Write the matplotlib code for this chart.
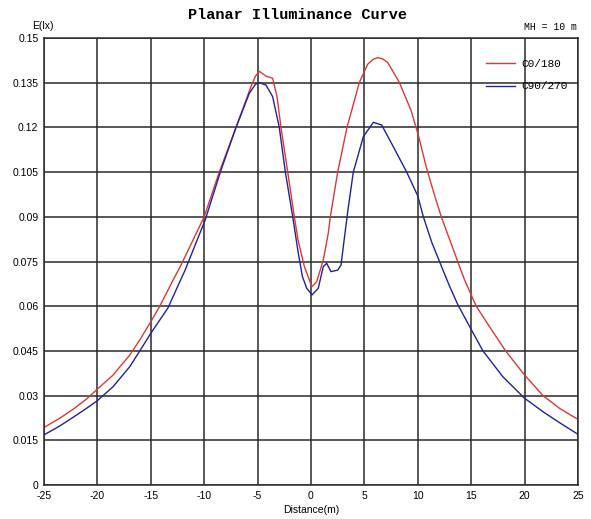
import matplotlib
matplotlib.use("Agg")
import matplotlib.pyplot as plt

plt.rcParams["axes.unicode_minus"] = False

# C0/180 curve
x_c0 = [-25, -23.53, -22.28, -21.03, -20, -18.53, -16.97, -16.03, -15, -14.16, -12.91,
        -12.24, -10.0, -8.59, -7.02, -5.62, -5.2, -4.84, -4.21, -3.59, -3.18, -2.81, -2.18,
        -1.56, -1.2, -0.62, -0.15, 0.06, 0.53, 1.15, 1.62, 1.81, 2.5, 3.37, 4.53, 5.31, 5.8,
        6.24, 6.7, 7.18, 8.27, 9.36, 10.08, 10.77, 11.5, 12.2, 13.91, 14.38, 15.47, 16.72,
        18.22, 20, 21.72, 23.28, 25]
y_c0 = [0.0193, 0.0224, 0.0254, 0.0288, 0.0322, 0.0369, 0.0436, 0.0487, 0.0548, 0.060,
        0.0688, 0.0733, 0.090, 0.105, 0.120, 0.1337, 0.1372, 0.1388, 0.1372, 0.1365,
        0.1303, 0.120, 0.105, 0.090, 0.082, 0.0733, 0.0688, 0.0665, 0.0682, 0.0755, 0.0845,
        0.090, 0.105, 0.120, 0.1351, 0.1412, 0.1428, 0.1434, 0.1430, 0.1418, 0.1351, 0.1258,
        0.117, 0.107, 0.098, 0.090, 0.0733, 0.0688, 0.060, 0.0531, 0.045, 0.0369, 0.030,
        0.0257, 0.0220]

# C90/270 curve
x_c90 = [-25, -23.53, -22.28, -21.03, -20, -18.53, -16.97, -16.03, -15, -13.38, -12.44,
         -11.8, -9.9, -8.49, -7.02, -5.78, -5.2, -4.84, -4.21, -3.59, -2.97, -2.4, -1.71,
         -1.2, -0.8, -0.4, 0.1, 0.68, 1.15, 1.47, 1.87, 2.5, 2.81, 3.2, 3.45, 3.96, 4.9,
         5.84, 6.62, 7.71, 8.96, 10.0, 10.52, 11.3, 12.2, 13.0, 13.75, 15, 16.1, 17.97, 20,
         21.72, 23.28, 25]
y_c90 = [0.0168, 0.0198, 0.0227, 0.0257, 0.0283, 0.033, 0.0397, 0.045, 0.0509, 0.0595,
         0.0670, 0.0720, 0.089, 0.105, 0.120, 0.1314, 0.1345, 0.135, 0.1342, 0.1303, 0.120,
         0.105, 0.090, 0.078, 0.0699, 0.066, 0.0638, 0.066, 0.0733, 0.0744, 0.0716, 0.0721,
         0.0738, 0.085, 0.092, 0.105, 0.1169, 0.1217, 0.1208, 0.1135, 0.105, 0.097, 0.090,
         0.0815, 0.0735, 0.0665, 0.0605, 0.0522, 0.045, 0.0363, 0.0291, 0.0246, 0.0209,
         0.0170]

yticks = [0, 0.015, 0.03, 0.045, 0.06, 0.075, 0.09, 0.105, 0.12, 0.135, 0.15]
ytick_labels = ["0", "0.015", "0.03", "0.045", "0.06", "0.075", "0.09", "0.105", "0.12",
                "0.135", "0.15"]
xticks = [-25, -20, -15, -10, -5, 0, 5, 10, 15, 20, 25]

fig = plt.figure(figsize=(5.91, 5.19), dpi=100)
ax = fig.add_axes([44 / 591, 1 - 485 / 519, 534 / 591, 447 / 519])

ax.plot(x_c0, y_c0, color="#d8393a", linewidth=1.0, label="C0/180")
ax.plot(x_c90, y_c90, color="#22229a", linewidth=1.0, label="C90/270")

ax.set_xlim(-25, 25)
ax.set_ylim(0, 0.15)
ax.set_xticks(xticks)
ax.set_yticks(yticks)
ax.set_yticklabels(ytick_labels)
ax.grid(True, color="#2a2a2a", linewidth=1.1)
ax.set_axisbelow(True)
for sp in ax.spines.values():
    sp.set_color("#2a2a2a")
    sp.set_linewidth(1.1)
ax.tick_params(length=0, labelsize=7.5, pad=4)
for lbl in ax.get_xticklabels() + ax.get_yticklabels():
    lbl.set_family("Liberation Sans")

ax.set_xlabel("Distance(m)", fontsize=7.5, family="Liberation Sans", labelpad=3)

fig.text(297 / 591, 1 - 15 / 519, "Planar Illuminance Curve", ha="center", va="center",
         fontsize=11, fontweight="bold", family="Liberation Mono")
fig.text(43 / 591, 1 - 26 / 519, "E(lx)", ha="center", va="center", fontsize=7.5,
         family="Liberation Sans")
fig.text(577 / 591, 1 - 27 / 519, "MH = 10 m", ha="right", va="center", fontsize=7,
         family="Liberation Mono")

ax.legend(loc="upper right", bbox_to_anchor=(1.0, 0.975), frameon=False,
          prop={"family": "Liberation Mono", "size": 8}, handlelength=2.6,
          labelspacing=1.1, handletextpad=0.6)

fig.savefig("out.png", dpi=100)
